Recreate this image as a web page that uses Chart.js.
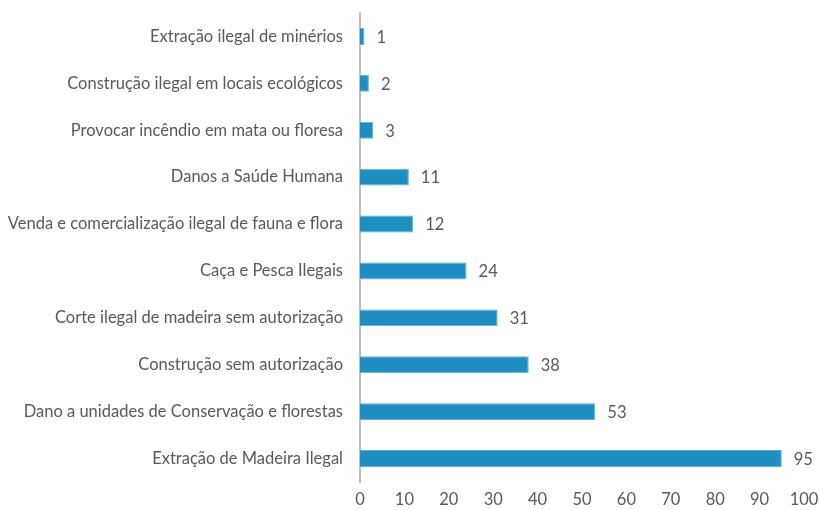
<!DOCTYPE html>
<html>
<head>
<meta charset="utf-8">
<script src="https://cdn.jsdelivr.net/npm/chart.js@4/dist/chart.umd.min.js"></script>
<style>
  html, body { margin: 0; padding: 0; background: #ffffff; }
  #wrap { width: 819px; height: 510px; }
</style>
</head>
<body>
<div id="wrap"><canvas id="c" width="819" height="510"></canvas></div>
<script>
const categories = [
  "Extração ilegal de minérios",
  "Construção ilegal em locais ecológicos",
  "Provocar incêndio em mata ou floresa",
  "Danos a Saúde Humana",
  "Venda e comercialização ilegal de fauna e flora",
  "Caça e Pesca Ilegais",
  "Corte ilegal de madeira sem autorização",
  "Construção sem autorização",
  "Dano a unidades de Conservação e florestas",
  "Extração de Madeira Ilegal"
];
const counts = [1, 2, 3, 11, 12, 24, 31, 38, 53, 95];
const xTicks = [0, 10, 20, 30, 40, 50, 60, 70, 80, 90, 100];

const FONT = "Lato, 'Open Sans', sans-serif";
const SIZE = 16.5;
const TEXT = "#595959";

// writes each bar's value just past its end
const valueLabels = {
  id: "valueLabels",
  afterDatasetsDraw(chart) {
    const ctx = chart.ctx;
    const meta = chart.getDatasetMeta(0);
    ctx.save();
    ctx.font = SIZE + "px " + FONT;
    ctx.fillStyle = TEXT;
    ctx.textAlign = "left";
    ctx.textBaseline = "middle";
    meta.data.forEach((bar, i) => {
      ctx.fillText(String(counts[i]), bar.x + 12, bar.y + 1);
    });
    ctx.restore();
  }
};

new Chart(document.getElementById("c"), {
  type: "bar",
  data: {
    labels: categories,
    datasets: [{
      data: counts,
      backgroundColor: "#1f8fc1",
      borderColor: "#5db3dc",
      borderWidth: 1,
      borderSkipped: "left",
      barPercentage: 0.6,
      categoryPercentage: 0.6
    }]
  },
  options: {
    indexAxis: "y",
    responsive: false,
    animation: false,
    layout: { padding: { top: 13, right: 15, left: 0, bottom: 0 } },
    plugins: { legend: { display: false }, tooltip: { enabled: false } },
    scales: {
      x: {
        min: 0,
        max: 100,
        afterBuildTicks(scale) { scale.ticks = xTicks.map(v => ({ value: v })); },
        afterFit(scale) {
          scale.height = 28;
          scale.paddingLeft = 0;
          scale.paddingRight = 0;
        },
        grid: { display: false, drawTicks: false },
        border: { display: false },
        ticks: { color: TEXT, font: { family: FONT, size: SIZE }, padding: 8, maxRotation: 0 }
      },
      y: {
        afterFit(scale) {
          scale.width = 360;
          scale.paddingTop = 0;
          scale.paddingBottom = 0;
        },
        grid: { display: false, drawTicks: false },
        border: { display: true, color: "#bfbfbf", width: 2 },
        ticks: { color: TEXT, font: { family: FONT, size: SIZE }, padding: 17 }
      }
    }
  },
  plugins: [valueLabels]
});
</script>
</body>
</html>
